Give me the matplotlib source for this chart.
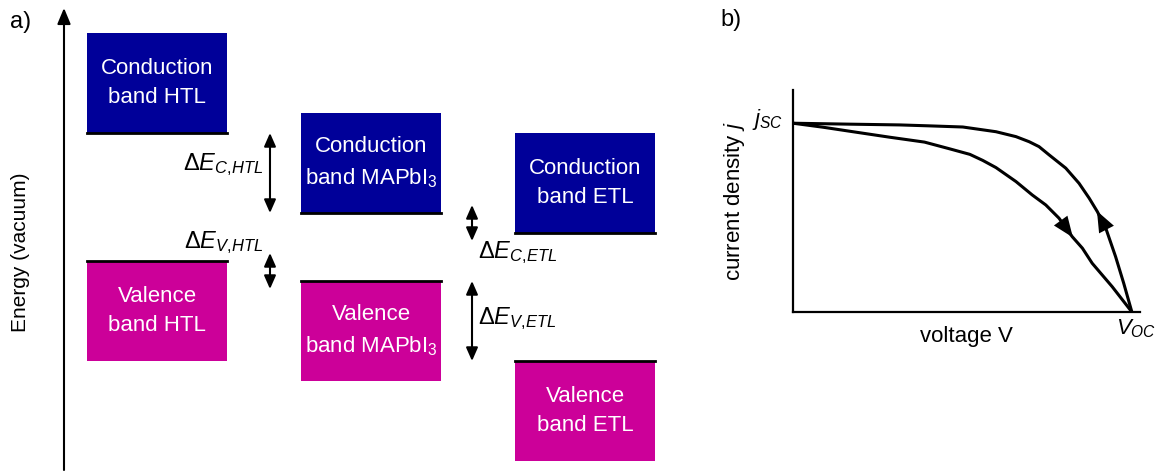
import numpy as np
import matplotlib.pyplot as plt
from matplotlib.patches import Rectangle

plt.rcParams.update({'font.family': ['Liberation Sans', 'DejaVu Sans'], 'font.size': 16,
                     'mathtext.fontset': 'custom',
                     'mathtext.rm': 'Liberation Sans',
                     'mathtext.it': 'Liberation Sans:italic'})

# a) band alignment (energy in arbitrary units, higher = closer to vacuum)
layers = ['HTL', 'MAPbI$_3$', 'ETL']
cb_min = [17.0, 13.0, 12.0]   # bottom of conduction band
vb_max = [10.6, 9.6, 5.6]     # top of valence band
offsets = [(r'$\Delta E_{C{,}HTL}$', 'cb', 0, 1),
           (r'$\Delta E_{V{,}HTL}$', 'vb', 0, 1),
           (r'$\Delta E_{C{,}ETL}$', 'cb', 1, 2),
           (r'$\Delta E_{V{,}ETL}$', 'vb', 1, 2)]

# b) j-V hysteresis, normalised to jsc and Voc
v_up = [0, .168, .315, .403, .501, .599, .658, .697, .726, .756, .805, .844, .874,
        .898, .923, .952, .976, 1.0]
j_up = [1.0, .995, .991, .986, .980, .955, .929, .902, .876, .832, .762, .682, .603,
        .532, .444, .293, .152, 0]
v_lo = [0, .088, .188, .285, .388, .463, .522, .560, .599, .658, .706, .746, .785,
        .824, .854, .883, .942, 1.0]
j_lo = [1.0, .979, .952, .926, .900, .864, .835, .803, .765, .691, .620, .567, .497,
        .399, .338, .258, .134, 0]

blue = '#000099'
magenta = '#cc0099'

fig = plt.figure(figsize=(11.57, 4.73), dpi=100)
ax = fig.add_axes([0, 0, 1, 1])
ax.set_xlim(-157 / 214, 1000 / 214)
ax.set_ylim(0, 23.65)
ax.axis('off')

w, h = 0.654, 5.0
for i, name in enumerate(layers):
    ax.add_patch(Rectangle((i - w / 2, cb_min[i]), w, h, color=blue, lw=0))
    ax.plot([i - w / 2, i + w / 2], [cb_min[i]] * 2, color='k', lw=2)
    ax.text(i, cb_min[i] + h / 2, 'Conduction\nband ' + name, color='w',
            ha='center', va='center', linespacing=1.55)
    ax.add_patch(Rectangle((i - w / 2, vb_max[i] - h), w, h, color=magenta, lw=0))
    ax.plot([i - w / 2, i + w / 2], [vb_max[i]] * 2, color='k', lw=2)
    ax.text(i, vb_max[i] - h / 2, 'Valence\nband ' + name, color='w',
            ha='center', va='center', linespacing=1.55)

# energy axis
ax.annotate('', xy=(-0.4346, 23.25), xytext=(-0.4346, 0.15),
            arrowprops=dict(arrowstyle='-|>,head_length=0.6,head_width=0.25',
                            color='k', lw=1.5, shrinkA=0, shrinkB=0))
ax.text(-0.64, 11.05, 'Energy (vacuum)', rotation=90, ha='center', va='center',
        fontsize=15)

for label, band, a, b in offsets:
    lev = cb_min if band == 'cb' else vb_max
    hi, lo = max(lev[a], lev[b]), min(lev[a], lev[b])
    if hi - lo < 2:
        hi, lo = hi + 0.4, lo - 0.4
    x = 0.528 if a == 0 else 1.472
    ax.annotate('', xy=(x, hi), xytext=(x, lo),
                arrowprops=dict(arrowstyle='<|-|>,head_length=0.5,head_width=0.22',
                                color='k', lw=1.5, shrinkA=0, shrinkB=0))
    if a == 0:
        ty = (hi + lo) / 2 + 0.4 if band == 'cb' else hi + 0.5
        ax.text(0.495, ty, label, ha='right', va='center', fontsize=17)
    else:
        ty = lo - 0.6 if band == 'cb' else (hi + lo) / 2 + 0.1
        ax.text(1.5, ty, label, ha='left', va='center', fontsize=17)

fig.text(10 / 1157, 1 - 22 / 473, 'a)', ha='left', va='center', fontsize=17)
fig.text(720 / 1157, 1 - 20 / 473, 'b)', ha='left', va='center', fontsize=17)

# b) panel
ax2 = fig.add_axes([793 / 1157, 161 / 473, 347 / 1157, 222 / 473])
ax2.plot(v_up, j_up, color='k', lw=2.2, solid_joinstyle='round')
ax2.plot(v_lo, j_lo, color='k', lw=2.2, solid_joinstyle='round')
ax2.set_xlim(0, 1.024)
ax2.set_ylim(0, 1.176)
for s in ['top', 'right']:
    ax2.spines[s].set_visible(False)
for s in ['left', 'bottom']:
    ax2.spines[s].set_linewidth(1.6)
ax2.set_xticks([])
ax2.set_yticks([])
ax2.set_xlabel('voltage V', labelpad=10)
ax2.set_ylabel('current density $j$', labelpad=33)

head = dict(arrowstyle='-|>,head_length=0.75,head_width=0.3', color='k',
            lw=0, shrinkA=0, shrinkB=0, mutation_scale=20)
ax2.annotate('', xy=(0.826, np.interp(0.826, v_lo, j_lo)),
             xytext=(0.80, np.interp(0.80, v_lo, j_lo)), arrowprops=head)
ax2.annotate('', xy=(0.897, np.interp(0.897, v_up, j_up)),
             xytext=(0.915, np.interp(0.915, v_up, j_up)), arrowprops=head)

ax2.annotate('$j_{SC}$', xy=(0, 1.0), xytext=(-7, 3), textcoords='offset points',
             ha='right', va='center')
ax2.annotate('$V_{OC}$', xy=(1.0, 0), xytext=(3, -4), textcoords='offset points',
             ha='center', va='top', annotation_clip=False)

fig.savefig('out.png', dpi=100)
